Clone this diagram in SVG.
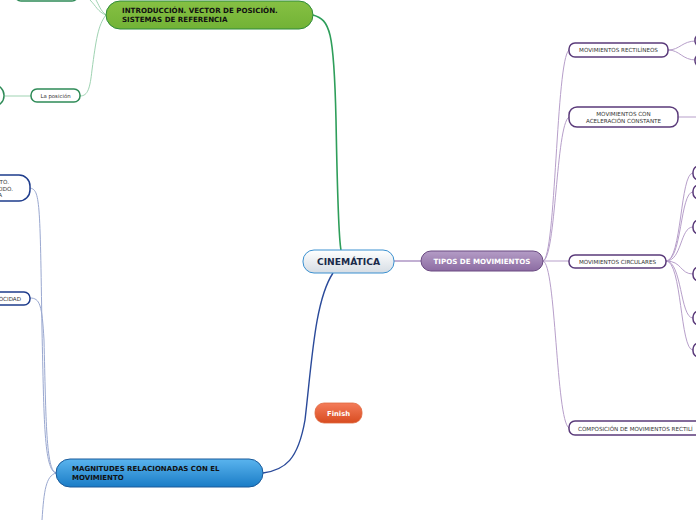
<svg xmlns="http://www.w3.org/2000/svg" width="696" height="520" viewBox="0 0 696 520">
<defs>
<linearGradient id="gCin" x1="0" y1="0" x2="0" y2="1"><stop offset="0" stop-color="#ffffff"/><stop offset="1" stop-color="#d6dde4"/></linearGradient>
<linearGradient id="gTip" x1="0" y1="0" x2="0" y2="1"><stop offset="0" stop-color="#b49cc6"/><stop offset="1" stop-color="#8c6ca2"/></linearGradient>
<linearGradient id="gMag" x1="0" y1="0" x2="0" y2="1"><stop offset="0" stop-color="#5ab4ee"/><stop offset="1" stop-color="#1a7cc6"/></linearGradient>
<linearGradient id="gFin" x1="0" y1="0" x2="0" y2="1"><stop offset="0" stop-color="#f47c5a"/><stop offset="1" stop-color="#d84c20"/></linearGradient>
<linearGradient id="gInt" x1="0" y1="0" x2="0" y2="1"><stop offset="0" stop-color="#86c043"/><stop offset="1" stop-color="#72b236"/></linearGradient>
</defs>
<style>
text{font-family:"DejaVu Sans",Verdana,sans-serif;}
.b{font-weight:bold;}
.sm{font-size:5.6px;fill:#333;}
.pn{fill:#fff;stroke:#5a3a7a;stroke-width:1.5;}
.gn{fill:#fff;stroke:#2e8b57;stroke-width:1.5;}
.bn{fill:#fff;stroke:#1e3c8c;stroke-width:1.5;}
.cp{fill:none;stroke:#b79fca;stroke-width:1;}
.cg{fill:none;stroke:#9fd3b2;stroke-width:1;}
.cb{fill:none;stroke:#9aa8d0;stroke-width:1;}
</style>
<g id="connectors">
<path d="M313,15 C330,20 334,30 336,120 C338,230 340,245 341,250" fill="none" stroke="#2e9e5a" stroke-width="1.6"/>
<path d="M333,273 C315,300 312,360 305,420 C298,460 285,470 263,473" fill="none" stroke="#2a4a9a" stroke-width="1.4"/>
<path d="M394,261 L421,261" fill="none" stroke="#a88ec0" stroke-width="1.4"/>
<path class="cp" d="M543,261 C556,258 556,60 569,50"/>
<path class="cp" d="M543,261 C556,258 556,125 569,117"/>
<path class="cp" d="M543,261 L569,261"/>
<path class="cp" d="M543,261 C556,264 556,420 569,428"/>
<path class="cp" d="M668,50 C680,50 682,41 696,41"/>
<path class="cp" d="M668,50 C680,50 682,60 696,60"/>
<path class="cp" d="M678,117 L696,117"/>
<path class="cp" d="M666,261 C682,261 680,173 693,173"/>
<path class="cp" d="M666,261 C682,261 680,192 693,192"/>
<path class="cp" d="M666,261 C682,261 680,227 693,227"/>
<path class="cp" d="M666,261 C682,261 680,274 693,274"/>
<path class="cp" d="M666,261 C682,261 680,318 693,318"/>
<path class="cp" d="M666,261 C682,261 680,350 693,350"/>
<path class="cg" d="M106,15 C98,12 96,6 90,0"/>
<path class="cg" d="M106,15 C100,10 99,5 96,0"/>
<path class="cg" d="M106,15 C98,25 96,40 92,70 C90,88 88,96 80,96"/>
<path class="cg" d="M31,96 L5,96"/>
<path class="cb" d="M56,473 C44,470 44,420 42,330 C40,200 40,190 30,188"/>
<path class="cb" d="M56,473 C46,470 46,420 44,340 C42,305 40,298 30,298"/>
<path class="cb" d="M56,473 C46,476 44,490 42,520"/>
</g>
<g id="n-top"><rect class="gn" x="15" y="-12" width="63" height="13" rx="6"/></g>
<g id="n-intro">
<rect x="106" y="1" width="207" height="28" rx="14" fill="url(#gInt)" stroke="#2e8b3a" stroke-width="1"/>
<text class="b" x="122" y="13" font-size="7.1" fill="#111">INTRODUCCIÓN. VECTOR DE POSICIÓN.</text>
<text class="b" x="122" y="22" font-size="7.1" fill="#111">SISTEMAS DE REFERENCIA</text>
</g>
<g id="n-posicion">
<rect class="gn" x="31" y="89" width="49" height="13" rx="6"/>
<text x="55.5" y="97.8" font-size="5.4" fill="#333" text-anchor="middle">La posición</text>
</g>
<g id="n-left-green"><rect class="gn" x="-20" y="85" width="24" height="21" rx="10"/></g>
<g id="n-cinematica">
<rect x="303" y="250" width="91" height="23" rx="11" fill="url(#gCin)" stroke="#3a90d0" stroke-width="1"/>
<text class="b" x="348.5" y="265" font-size="9.2" fill="#1a2a4a" text-anchor="middle">CINEMÁTICA</text>
</g>
<g id="n-tipos">
<rect x="421" y="251" width="122" height="20" rx="10" fill="url(#gTip)" stroke="#6a4a82" stroke-width="1"/>
<text class="b" x="482" y="264" font-size="7.1" fill="#fff" text-anchor="middle">TIPOS DE MOVIMIENTOS</text>
</g>
<g id="n-rect">
<rect class="pn" x="569" y="43" width="99" height="14" rx="6"/>
<text class="sm" x="618.5" y="52" text-anchor="middle">MOVIMIENTOS RECTILÍNEOS</text>
</g>
<g id="n-acel">
<rect class="pn" x="569" y="107" width="109" height="20" rx="8"/>
<text class="sm" x="623.5" y="116" text-anchor="middle">MOVIMIENTOS CON</text>
<text class="sm" x="623.5" y="122.5" text-anchor="middle">ACELERACIÓN CONSTANTE</text>
</g>
<g id="n-circ">
<rect class="pn" x="569" y="255" width="97" height="13" rx="6"/>
<text class="sm" x="617.5" y="263.5" text-anchor="middle">MOVIMIENTOS CIRCULARES</text>
</g>
<g id="n-comp">
<rect class="pn" x="569" y="421" width="160" height="14" rx="6"/>
<text class="sm" x="578" y="430.5">COMPOSICIÓN DE MOVIMIENTOS RECTILÍ</text>
</g>
<g id="n-r1"><rect class="pn" x="695" y="34" width="20" height="13" rx="6"/></g>
<g id="n-r2"><rect class="pn" x="695" y="54" width="20" height="13" rx="6"/></g>
<g id="n-c1"><rect class="pn" x="693" y="166" width="20" height="14" rx="6"/></g>
<g id="n-c2"><rect class="pn" x="693" y="185" width="20" height="14" rx="6"/></g>
<g id="n-c3"><rect class="pn" x="693" y="220" width="20" height="14" rx="6"/></g>
<g id="n-c4"><rect class="pn" x="693" y="267" width="20" height="14" rx="6"/></g>
<g id="n-c5"><rect class="pn" x="693" y="311" width="20" height="14" rx="6"/></g>
<g id="n-c6"><rect class="pn" x="693" y="343" width="20" height="14" rx="6"/></g>
<g id="n-magnitudes">
<rect x="56" y="459" width="207" height="28" rx="14" fill="url(#gMag)" stroke="#1a5a9a" stroke-width="1"/>
<text class="b" x="72" y="471" font-size="7" fill="#111">MAGNITUDES RELACIONADAS CON EL</text>
<text class="b" x="72" y="480" font-size="7" fill="#111">MOVIMIENTO</text>
</g>
<g id="n-left1">
<rect class="bn" x="-40" y="175" width="70" height="26" rx="11"/>
<text class="sm" x="9" y="184" text-anchor="end">ITO.</text>
<text class="sm" x="13" y="190.5" text-anchor="end">CIDO.</text>
<text class="sm" x="2" y="197" text-anchor="end">A</text>
</g>
<g id="n-left2">
<rect class="bn" x="-40" y="292" width="70" height="13" rx="6"/>
<text class="sm" x="21" y="300.5" text-anchor="end">OCIDAD</text>
</g>
<g id="n-finish">
<rect x="315" y="403" width="47" height="20" rx="9" fill="url(#gFin)" stroke="#e06a40" stroke-width="0.8"/>
<text class="b" x="338.5" y="416" font-size="6.8" fill="#fff" text-anchor="middle">Finish</text>
</g>
</svg>
